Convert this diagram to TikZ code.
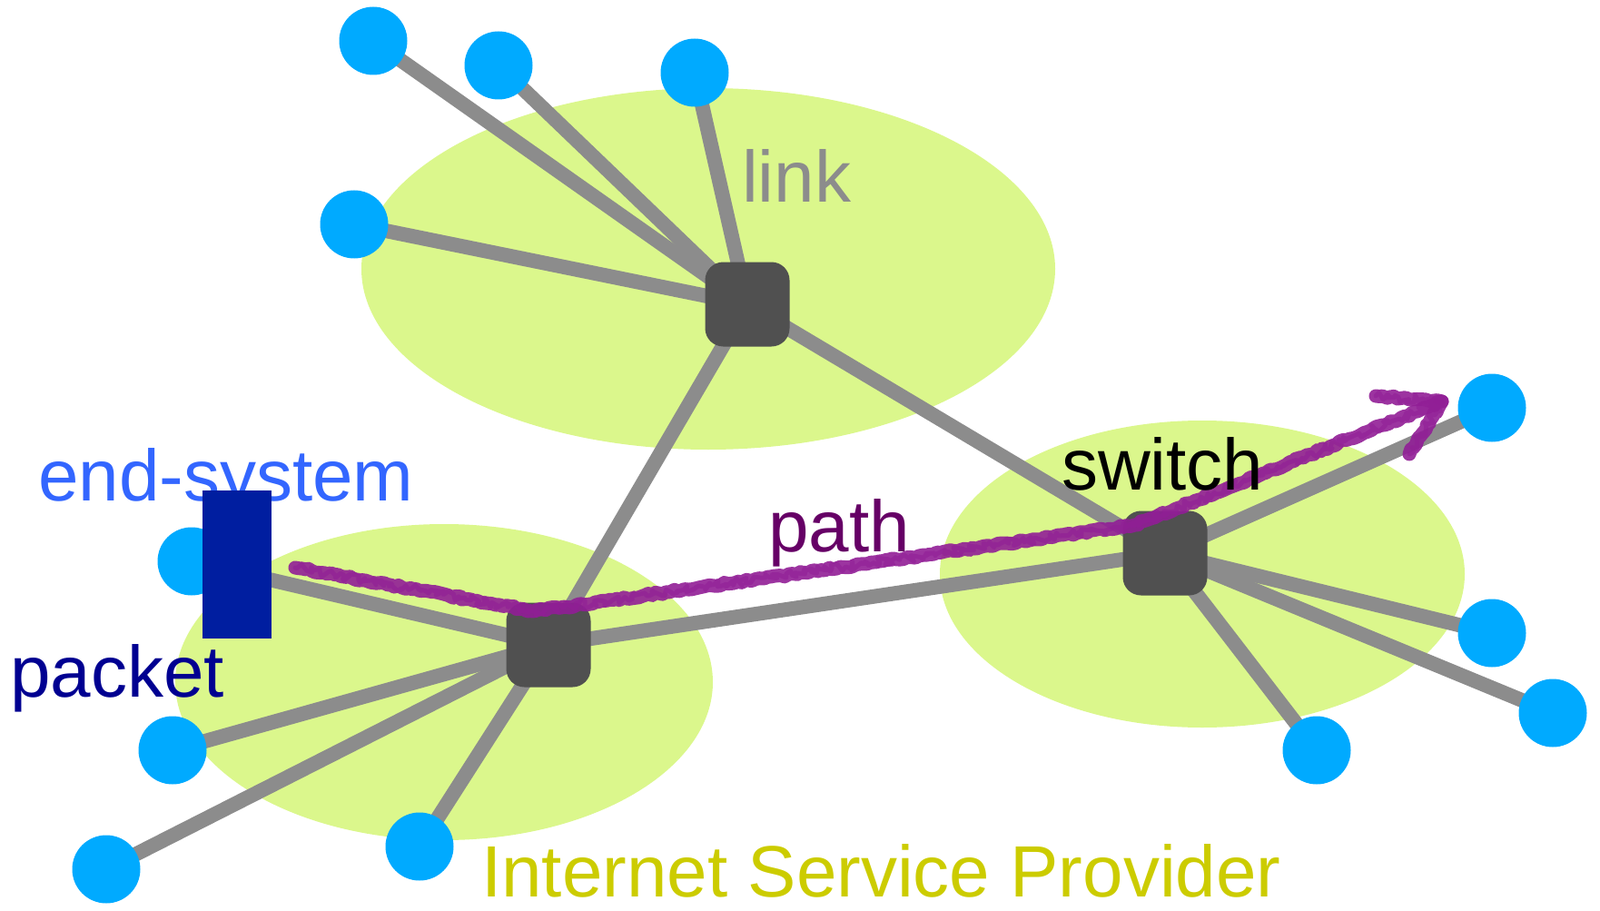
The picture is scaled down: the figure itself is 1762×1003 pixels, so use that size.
\documentclass[tikz,border=0pt]{standalone}
\usepackage{fontspec}
\setmainfont{Liberation Sans}
\usetikzlibrary{decorations.pathmorphing}

\definecolor{ispgreen}{RGB}{219,247,140}
\definecolor{hostblue}{RGB}{0,170,255}
\definecolor{switchgray}{RGB}{80,80,80}
\definecolor{linkgray}{RGB}{140,140,140}
\definecolor{endblue}{RGB}{51,102,255}
\definecolor{packetnavy}{RGB}{0,0,145}
\definecolor{packetfill}{RGB}{0,30,160}
\definecolor{pathtext}{RGB}{102,0,102}
\definecolor{pathpurple}{RGB}{145,30,150}
\definecolor{ispyellow}{RGB}{204,204,0}

\pgfdeclarelayer{isp}
\pgfdeclarelayer{links}
\pgfsetlayers{isp,links,main}

\begin{document}
\begin{tikzpicture}[x=1pt,y=-1pt,
    host/.style={circle,fill=hostblue,minimum size=75pt,inner sep=0pt},
    switchbox/.style={rectangle,rounded corners=20pt,fill=switchgray,minimum size=93pt,inner sep=0pt},
    link/.style={draw=linkgray,line width=16pt},
    lbl/.style={anchor=base west,inner sep=0pt,font=\fontsize{80}{96}\selectfont},
    pathpen/.style={draw=pathpurple,line width=15pt,line cap=round,line join=round,opacity=0.9,
        decorate,decoration={random steps,segment length=4pt,amplitude=1.5pt}},
    pathfuzz/.style={draw=pathpurple,line width=5pt,line cap=round,line join=round,opacity=0.6,
        decorate,decoration={random steps,segment length=3pt,amplitude=5pt}}]
    \useasboundingbox (0,0) rectangle (1762,1003);

    % provider regions
    \begin{pgfonlayer}{isp}
        \fill[ispgreen] (780,296) ellipse [x radius=382, y radius=199];
        \fill[ispgreen] (489,751) ellipse [x radius=296, y radius=174];
        \fill[ispgreen] (1324,632) ellipse [x radius=289, y radius=169];
    \end{pgfonlayer}

    % switches
    \node[switchbox] (s1) at (823,335) {};
    \node[switchbox] (s2) at (604,710) {};
    \node[switchbox] (s3) at (1283,609) {};

    % end systems, each hanging off its switch
    \foreach \n/\x/\y/\s in {1/411/45/s1, 2/549/72/s1, 3/765/80/s1, 4/390/247/s1,
                             5/211/618/s2, 6/190/826/s2, 7/117/957/s2, 8/462/932/s2,
                             9/1643/449/s3, 10/1643/697/s3, 11/1710/785/s3, 12/1450/826/s3} {
        \node[host] (h\n) at (\x,\y) {};
        \begin{pgfonlayer}{links}
            \draw[link] (h\n.center) -- (\s.center);
        \end{pgfonlayer}
    }

    % core links
    \begin{pgfonlayer}{links}
        \draw[link] (s1.center) -- (s2.center);
        \draw[link] (s1.center) -- (s3.center);
        \draw[link] (s2.center) -- (s3.center);
    \end{pgfonlayer}

    % path through the network
    \coordinate (pstart) at (325,625);
    \coordinate (plow) at (588,673);
    \coordinate (pmid) at (1250,578);
    \coordinate (ptip) at (1588,442);
    \coordinate (pbarbA) at (1515,436);
    \coordinate (pbarbB) at (1552,500);
    \draw[pathpen] (pstart) -- (plow) -- (pmid) -- (ptip);
    \draw[pathfuzz] (pstart) -- (plow) -- (pmid) -- (ptip);
    \draw[pathpen] (pbarbA) -- (ptip) -- (pbarbB);
    \draw[pathfuzz] (pbarbA) -- (ptip) -- (pbarbB);

    % labels
    \node[lbl,text=endblue] (endsys) at (42,551) {end-system};
    \node[fill=packetfill,minimum width=76pt,minimum height=163pt,inner sep=0pt] (pkt) at (261,621) {};
    \node[lbl,text=packetnavy] (pktlbl) at (11,767) {packet};
    \node[lbl,text=linkgray] (linklbl) at (817,223) {link};
    \node[lbl,text=pathtext] (pathlbl) at (846,607) {path};
    \node[lbl,text=black] (swlbl) at (1169,539) {switch};
    \node[lbl,text=ispyellow] (isplbl) at (530,987) {Internet Service Provider};
\end{tikzpicture}
\end{document}
